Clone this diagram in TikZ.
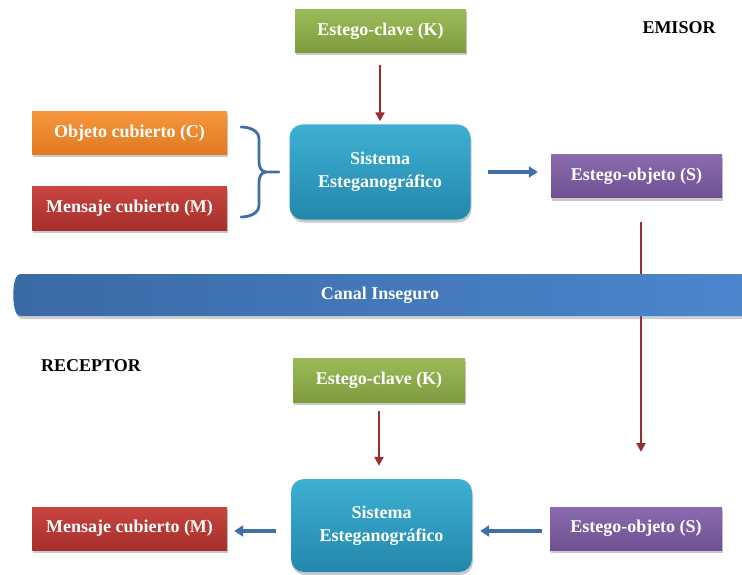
\documentclass[tikz,border=0pt]{standalone}
\usepackage{fontspec}
\setmainfont{Liberation Serif}
\usetikzlibrary{arrows.meta,shadows}

% colours of the boxes and connectors
\definecolor{greenT}{HTML}{9BBB59}
\definecolor{greenB}{HTML}{7E9C3E}
\definecolor{orangeT}{HTML}{F7963E}
\definecolor{orangeB}{HTML}{E07A1E}
\definecolor{redT}{HTML}{C8453F}
\definecolor{redB}{HTML}{A52F2C}
\definecolor{purpT}{HTML}{8A6CAE}
\definecolor{purpB}{HTML}{6E5193}
\definecolor{tealT}{HTML}{3DB0D3}
\definecolor{tealB}{HTML}{2387AB}
\definecolor{bandL}{HTML}{3A6AA6}
\definecolor{bandR}{HTML}{4C86CE}
\definecolor{arrBlue}{HTML}{3F6FA7}
\definecolor{arrRed}{HTML}{9A2D2D}

\tikzset{
  boxtext/.style={font=\bfseries\fontsize{18}{23}\selectfont, text=white, align=center},
  box/.style={rectangle, boxtext, inner sep=2pt, minimum height=43pt,
    drop shadow={shadow xshift=1pt, shadow yshift=-3pt, opacity=.35, fill=black!60}},
  keybox/.style={box, minimum width=171pt, top color=greenT, bottom color=greenB},
  coverbox/.style={box, minimum width=195pt, top color=orangeT, bottom color=orangeB},
  msgbox/.style={box, minimum width=195pt, top color=redT, bottom color=redB},
  objbox/.style={box, minimum width=171pt, top color=purpT, bottom color=purpB},
  sysbox/.style={rectangle, rounded corners=13pt, boxtext, minimum width=181pt,
    minimum height=95pt, top color=tealT, bottom color=tealB,
    drop shadow={shadow xshift=1pt, shadow yshift=-3pt, opacity=.35, fill=black!60}},
  rolelabel/.style={font=\bfseries\fontsize{18}{21}\selectfont, text=black},
  bluearrow/.style={draw=arrBlue, line width=3.2pt, -{Triangle[length=9pt,width=11pt]}},
  redarrow/.style={draw=arrRed, line width=2.6pt, -{Triangle[length=9pt,width=9pt]}},
  bracestyle/.style={draw=arrBlue, line width=2.8pt, line cap=round}
}

\begin{document}
\begin{tikzpicture}[x=1pt, y=-1pt]
  \useasboundingbox[fill=white] (0,0) rectangle (742,575);

  % ---- sender side ----
  \node[keybox]   (k1)   at (380.5,31)  {Estego-clave (K)};
  \node[rolelabel] (emisor) at (679,28) {EMISOR};
  \node[coverbox] (cov)  at (129.5,133) {Objeto cubierto (C)};
  \node[msgbox]   (msg1) at (129.5,208.5) {Mensaje cubierto (M)};
  \node[sysbox]   (sys1) at (380,172) {Sistema\\Esteganográfico};
  \node[objbox]   (obj1) at (636.5,176.5) {Estego-objeto (S)};

  % brace joining cover object and message
  \coordinate (brtip) at (279,172);
  \draw[bracestyle] (241,127) to[out=0,in=90] (259,139) -- (259,162)
        to[out=-90,in=180] (266,172) -- (brtip);
  \draw[bracestyle] (241,217) to[out=0,in=-90] (259,205) -- (259,182)
        to[out=90,in=180] (266,172);

  \draw[redarrow, shorten <=12pt, shorten >=3pt] (k1.south -| sys1.north) -- (sys1.north);
  \draw[bluearrow, shorten <=17pt, shorten >=13pt] (sys1.east) -- (sys1.east -| obj1.west);

  % stego object travels down through the channel
  \coordinate (sendend) at (641,452);
  \draw[redarrow, shorten <=24pt] (obj1.south -| sendend) -- (sendend);

  % ---- insecure channel ----
  \shade[left color=bandL, right color=bandR, drop shadow={shadow xshift=1pt, shadow yshift=-3pt, opacity=.3, fill=black!60}]
    (750,274) -- (20,274) .. controls (11,274) and (11,316) .. (20,316)
    -- (750,316) -- cycle;
  \node[boxtext] (canal) at (380,295) {Canal Inseguro};

  % ---- receiver side ----
  \node[rolelabel] (receptor) at (91,366) {RECEPTOR};
  \node[keybox, minimum width=172pt, minimum height=44pt] (k2) at (379,380) {Estego-clave (K)};
  \node[sysbox, minimum height=93pt] (sys2) at (381.5,525.5) {Sistema\\Esteganográfico};
  \node[msgbox]   (msg2) at (129.5,528.5) {Mensaje cubierto (M)};
  \node[objbox, minimum width=172pt] (obj2) at (636,528.5) {Estego-objeto (S)};

  \draw[redarrow, shorten <=9pt, shorten >=13pt] (k2.south) -- (k2.south |- sys2.north);
  \draw[bluearrow, shorten <=8pt, shorten >=8pt] (obj2.west |- 0,531) -- (sys2.east |- 0,531);
  \draw[bluearrow, shorten <=15pt, shorten >=7pt] (sys2.west |- 0,531) -- (msg2.east |- 0,531);
\end{tikzpicture}
\end{document}
